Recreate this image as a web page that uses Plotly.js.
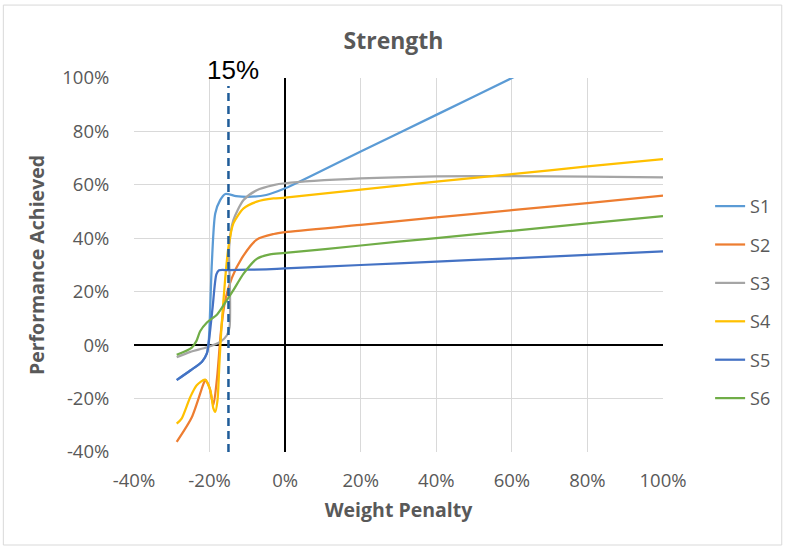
<!DOCTYPE html>
<html>
<head>
<meta charset="utf-8">
<script src="https://cdn.plot.ly/plotly-3.0.1.min.js"></script>
<style>html,body{margin:0;padding:0;background:#fff;}#chart{width:787px;height:548px;}</style>
</head>
<body>
<div id="chart"></div>
<script>
// ---- data (percent values) ----
var seriesNames = ["S1", "S2", "S3", "S4", "S5", "S6"];

var s1X = [-28.7, -25, -22, -20.7, -20.2, -19.4, -18.5, -17.2, -15.8, -13, -10, -5, 0, 20, 40, 60, 80, 100];
var s1Y = [-13, -9.4, -6.2, -3, 2, 30.6, 49.3, 54.3, 56.6, 55.8, 55.5, 56.2, 58.7, 72.5, 86.2, 100, 113.8, 127.5];

var s2X = [-28.7, -24.7, -21.6, -21.1, -20.0, -19.0, -18.0, -17.0, -15.9, -14.1, -11.5, -7.5, -3, 0, 20, 40, 60, 80, 100];
var s2Y = [-36.2, -27, -14.4, -13, -16, -22.5, -12, 5, 16.5, 25.2, 32.5, 39.5, 41.6, 42.3, 45, 47.8, 50.5, 53.2, 56];

var s3X = [-28.7, -25.1, -20.7, -17.2, -15.4, -14.7, -14.6, -14.8, -13.7, -11, -7.5, -3.1, 0, 20, 40, 60, 80, 100];
var s3Y = [-4.5, -2.5, -0.8, 1.2, 3.7, 6.9, 20, 36.8, 46.8, 54.3, 58, 59.9, 60.6, 62.4, 63.2, 63.3, 63.1, 62.8];

var s4X = [-28.7, -27.4, -25.1, -23.4, -21.2, -19.8, -19.0, -18.5, -17.9, -17.4, -16.9, -15.9, -15, -13.7, -11, -7.5, -3.1, 0, 20, 40, 60, 80, 100];
var s4Y = [-29.4, -27.5, -19.4, -15, -12.9, -16.9, -23.7, -25, -20.6, -6.9, 5.6, 24.3, 36.8, 45.6, 51.2, 53.7, 54.9, 55.2, 58.2, 61.2, 64, 66.9, 69.6];

var s5X = [-28.7, -25, -22, -20.7, -20.3, -19.2, -18.2, -17.5, -15, -5, 0, 20, 40, 60, 80, 100];
var s5Y = [-13.1, -9.4, -6.2, -3.1, 0, 14, 26.5, 28, 28.1, 28.4, 28.7, 30, 31.3, 32.5, 33.8, 35.1];

var s6X = [-28.7, -24.7, -23.5, -22.5, -20.7, -18, -15.4, -13.7, -11, -7.5, -4, 0, 20, 40, 60, 80, 100];
var s6Y = [-3.6, -0.9, 1.5, 5.2, 8.5, 11.5, 16.9, 20.6, 26.8, 32.3, 34, 34.5, 37.3, 40.1, 42.8, 45.6, 48.3];

var thresholdX = -15;           // dashed marker line
var thresholdLabel = "15%";

var xTickVals = [-40, -20, 0, 20, 40, 60, 80, 100];
var xTickText = ["-40%", "-20%", "0%", "20%", "40%", "60%", "80%", "100%"];
var yTickVals = [-40, -20, 0, 20, 40, 60, 80, 100];
var yTickText = ["-40%", "-20%", "0%", "20%", "40%", "60%", "80%", "100%"];

// ---- styling ----
var colors = ["#5B9BD5", "#ED7D31", "#A5A5A5", "#FFC000", "#4472C4", "#70AD47"];
var xs = [s1X, s2X, s3X, s4X, s5X, s6X];
var ys = [s1Y, s2Y, s3Y, s4Y, s5Y, s6Y];

var traces = seriesNames.map(function (n, i) {
  return {
    type: "scatter", mode: "lines", name: n,
    x: xs[i], y: ys[i],
    legendgroup: "g" + i,
    line: {color: colors[i], width: 2.25, shape: "spline", smoothing: 0.7}
  };
});

var txtFont = "'Open Sans', 'Noto Sans', sans-serif";
var gray = "#595959";

var layout = {
  width: 787, height: 548,
  margin: {l: 134, r: 123, t: 78, b: 96, pad: 0},
  paper_bgcolor: "#fff", plot_bgcolor: "#fff",
  title: {text: "<b>Strength</b>", font: {family: txtFont, size: 23, color: gray},
          x: 0.5, xanchor: "center", y: 0.925, yanchor: "middle"},
  xaxis: {
    range: [-40, 100], tickvals: xTickVals, ticktext: xTickText,
    showgrid: true, gridcolor: "#d9d9d9", gridwidth: 1,
    zeroline: true, zerolinecolor: "#000", zerolinewidth: 2, showline: false,
    ticks: "outside", ticklen: 12, tickcolor: "rgba(0,0,0,0)",
    tickfont: {family: txtFont, size: 18.5, color: gray},
    title: {text: "<b>Weight Penalty</b>", font: {family: txtFont, size: 19.5, color: gray}, standoff: 12},
    fixedrange: true
  },
  yaxis: {
    range: [-40, 100], tickvals: yTickVals, ticktext: yTickText,
    showgrid: true, gridcolor: "#d9d9d9", gridwidth: 1,
    zeroline: true, zerolinecolor: "#000", zerolinewidth: 2, showline: false,
    ticks: "outside", ticklen: 20, tickcolor: "rgba(0,0,0,0)",
    tickfont: {family: txtFont, size: 18.5, color: gray},
    title: {text: "<b>Performance Achieved</b>", font: {family: txtFont, size: 19.5, color: gray}, standoff: 12},
    fixedrange: true
  },
  legend: {
    x: 1.087, xanchor: "left", y: 0.4, yanchor: "middle",
    font: {family: txtFont, size: 18, color: gray},
    traceorder: "grouped", tracegroupgap: 12,
    bgcolor: "rgba(0,0,0,0)"
  },
  shapes: [
    // threshold dashed line
    {type: "line", xref: "x", yref: "y", x0: thresholdX, x1: thresholdX, y0: -40, y1: 97,
     line: {color: "#1F5C99", width: 2.5, dash: "8px,5px"}},
    // chart frame
    {type: "rect", xref: "paper", yref: "paper", x0: -0.247, x1: 1.2245, y0: -0.2487, y1: 1.195,
     line: {color: "#d9d9d9", width: 1}, fillcolor: "rgba(0,0,0,0)"}
  ],
  annotations: [
    {xref: "x", yref: "paper", x: thresholdX + 1.3, y: 1.066, xanchor: "center", yanchor: "top",
     text: thresholdLabel, showarrow: false,
     font: {family: "'Liberation Sans', Arial, sans-serif", size: 26, color: "#000"}}
  ],
  showlegend: true
};

Plotly.newPlot("chart", traces, layout, {displayModeBar: false, staticPlot: true});
</script>
</body>
</html>
